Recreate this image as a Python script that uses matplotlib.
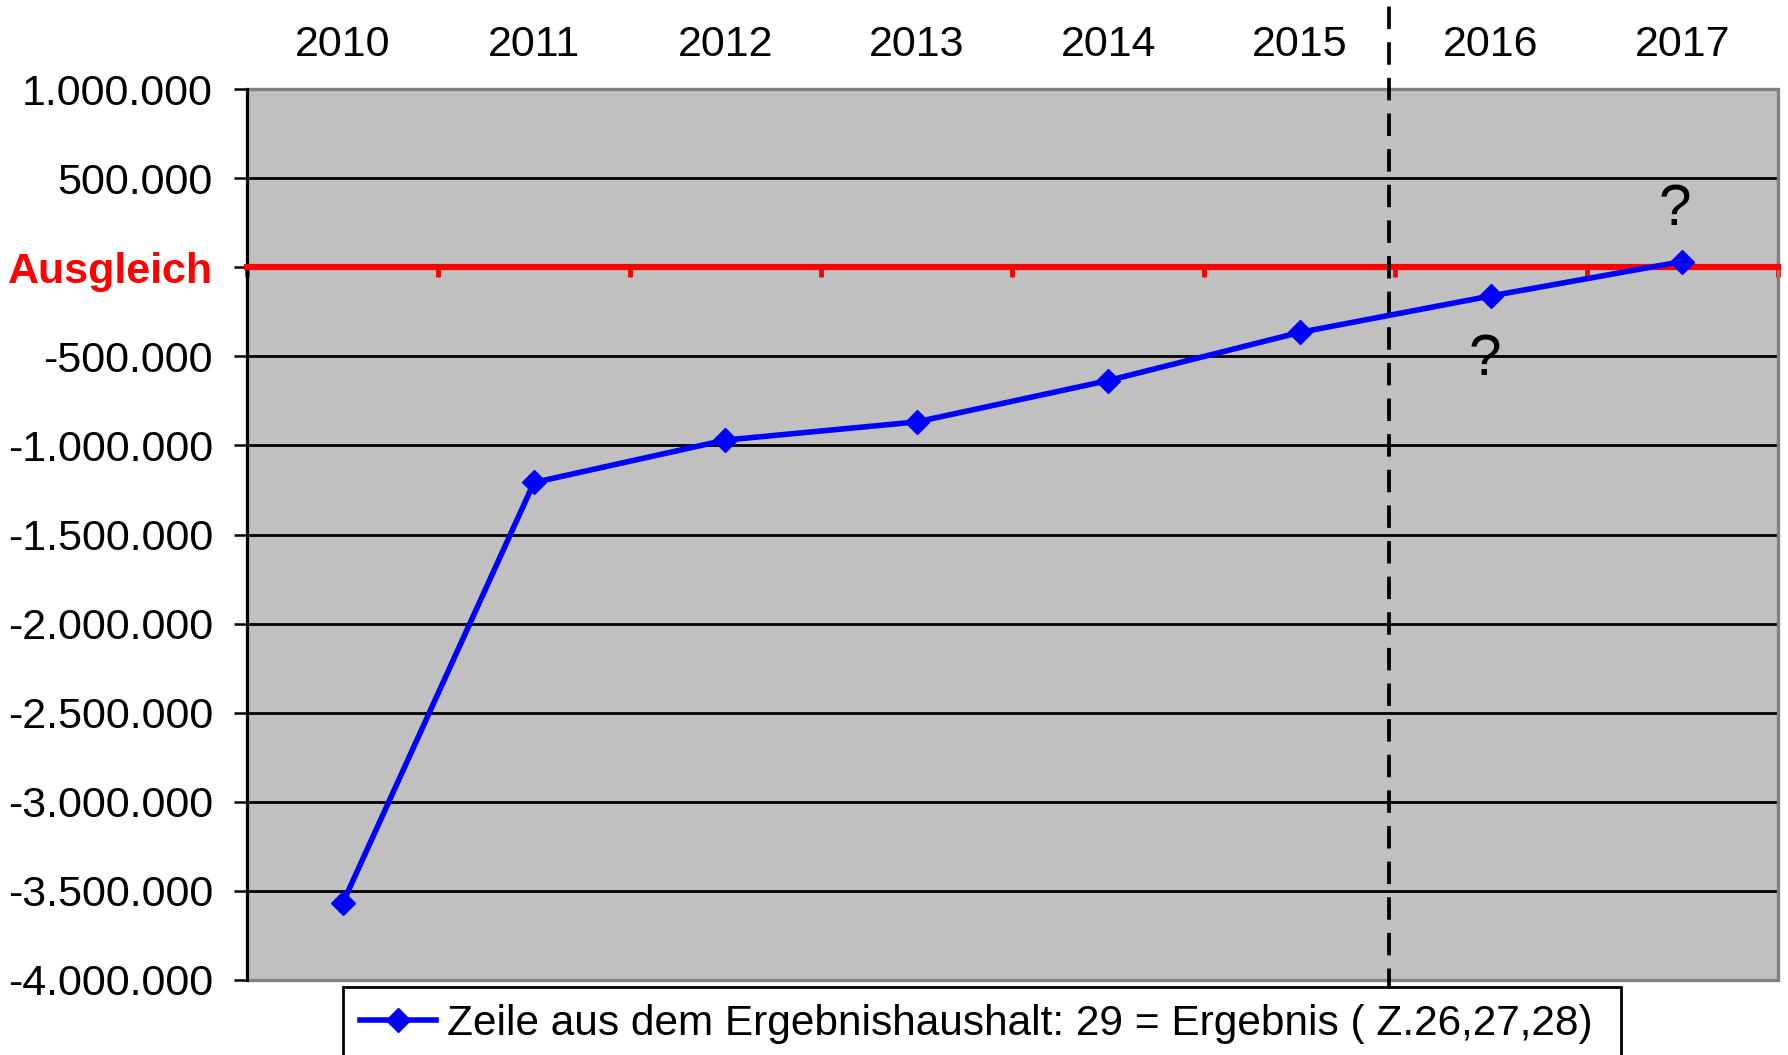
import numpy as np
import matplotlib
matplotlib.use('Agg')
import matplotlib.pyplot as plt
from matplotlib.patches import Rectangle

plt.rcParams['font.family'] = ['Liberation Sans', 'DejaVu Sans']

# Daten
jahre = ['2010', '2011', '2012', '2013', '2014', '2015', '2016', '2017']
ergebnis = [-3570000, -1208000, -970000, -868000, -636000, -366000, -161000, 32000]
y_ticks = np.arange(-4000000, 1000001, 500000)
legende = 'Zeile aus dem Ergebnishaushalt: 29 = Ergebnis ( Z.26,27,28) '
fragezeichen = [(6.96, 320000), (5.97, -520000)]  # (Jahr-Index, Wert)
trennung = 5.47  # zwischen 2015 und 2016

fig = plt.figure(figsize=(17.88, 10.55), dpi=100)
ax = fig.add_axes([0.1381, 0.0711, 0.8563, 0.8445])
ax.set_facecolor('#C0C0C0')

x = np.arange(len(jahre))
ax.plot(x, ergebnis, color='#0000FF', lw=4, marker='D', ms=12, zorder=3,
        label=legende)

ax.set_xlim(-0.5, len(jahre) - 0.5)
ax.set_ylim(y_ticks[0], y_ticks[-1])

# y-Achse
def fmt(v):
    return f"{int(v):,}".replace(',', '.')
labels = ['Ausgleich' if v == 0 else fmt(v) for v in y_ticks]
ax.set_yticks(y_ticks, labels)
ax.tick_params(axis='y', labelsize=31, length=9.5, width=1.8, color='black', pad=15)
for t, v in zip(ax.get_yticklabels(), y_ticks):
    if v == 0:
        t.set_color('red')
        t.set_fontweight('bold')
ax.yaxis.grid(True, color='black', lw=2)
ax.set_axisbelow(True)

# x-Achse: rote Linie bei 0, Jahre oben
ax.set_xticks(np.arange(-0.5, len(jahre)), [])
ax.set_xticks(x, jahre, minor=True)
ax.tick_params(axis='x', which='major', bottom=True, top=False, direction='out',
               length=7, width=3.5, color='red', labelbottom=False)
ax.tick_params(axis='x', which='minor', bottom=False, top=False,
               labelbottom=False, labeltop=True, labelsize=31, pad=15)
ax.spines['bottom'].set_position(('data', 0))
ax.spines['bottom'].set_color('red')
ax.spines['bottom'].set_linewidth(4.5)
ax.spines['left'].set_color('black')
ax.spines['left'].set_linewidth(2.2)
ax.spines['top'].set_visible(False)
ax.spines['right'].set_visible(False)
ax.add_patch(Rectangle((0, 0), 1, 1, transform=ax.transAxes, fill=False,
                       edgecolor='#808080', lw=2.4, clip_on=False, zorder=2.4))

# gestrichelte Trennlinie
ax.axvline(trennung, ymin=-0.012, ymax=1.094, clip_on=False, color='black',
           lw=2.7, linestyle=(0, (6, 3.5)), zorder=2.6)

for xi, yi in fragezeichen:
    ax.text(xi, yi, '?', fontsize=42, ha='center', va='center', zorder=4)

leg = fig.legend(loc='upper left', bbox_to_anchor=(343 / 1788, 68 / 1055),
                 borderaxespad=0, fontsize=30.5, handlelength=1.8,
                 handletextpad=0.25, fancybox=False, framealpha=1)
leg.get_frame().set_edgecolor('black')
leg.get_frame().set_linewidth(2)

plt.savefig('out.png', dpi=100)
